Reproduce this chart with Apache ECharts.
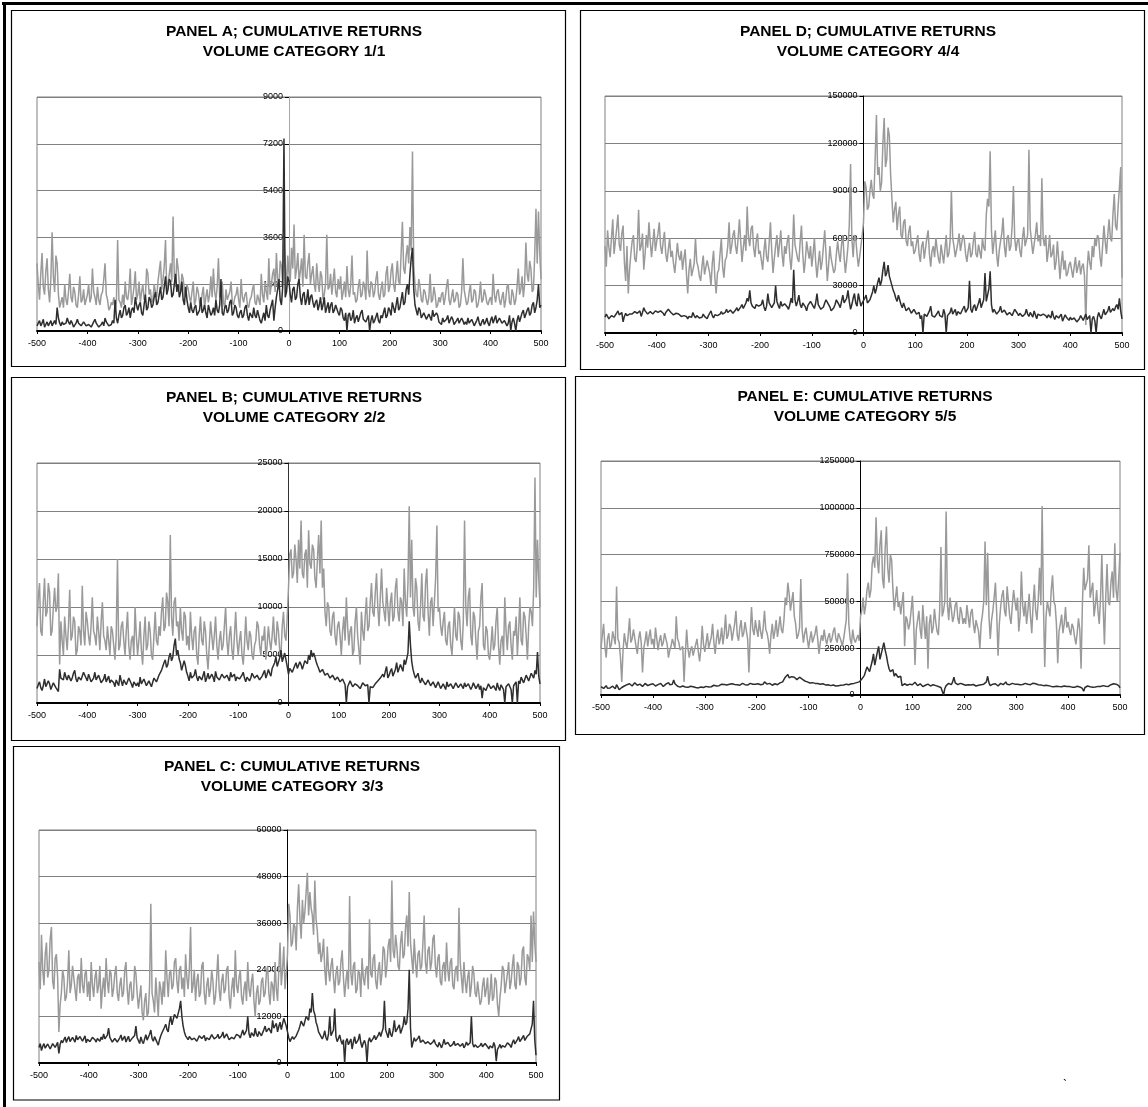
<!DOCTYPE html>
<html>
<head>
<meta charset="utf-8">
<script src="https://cdn.jsdelivr.net/npm/echarts@6/dist/echarts.min.js"></script>
<style>
html,body{margin:0;padding:0;background:#fff;}
#chart{width:1148px;height:1107px;}
</style>
</head>
<body>
<div id="chart"></div>
<script>
// event time: one reading every 2.5 units from -500 to 500 (401 readings per series)
const xValues = [];
for (let k = 0; k <= 400; k++) xValues.push(-500 + k * 2.5);
const xTickLabels = ['-500','-400','-300','-200','-100','0','100','200','300','400','500'];

// ---------- PANEL A (volume category 1/1) ----------
const aGray = [
2600,1800,1200,2200,3000,1700,1400,2300,2800,1600,1100,2000,3800,2100,1500,2900,2600,1400,900,1100,
1300,900,1800,1200,1000,1500,2200,1300,1100,1700,1500,1000,900,1400,2100,1100,1200,1600,1000,1200,
1400,1800,1100,1300,2400,1500,1300,1000,1700,1200,1000,1400,1500,2000,2600,1400,1200,800,900,1100,
1000,1300,800,1100,3500,1200,1100,900,1400,1000,1900,1300,1200,1600,2400,1000,1300,1700,2300,1200,
1400,1900,1100,1500,1800,1200,1300,2400,2200,1400,1600,1100,1200,1800,1500,1300,1900,2300,2700,1600,
2000,2500,3500,1500,1800,2200,2600,1900,4400,2100,1700,2800,2400,1800,1500,2200,2000,1600,1300,1800,
1600,1300,1100,1500,1900,1000,1200,1700,1500,1100,1000,1400,1700,900,1300,1600,1100,1400,2100,1300,
2400,1500,1200,1700,2800,1300,1400,1900,1100,900,1600,1200,1200,1500,1900,1100,1000,1300,1400,1700,
1200,900,2000,1300,1100,1400,1500,1000,900,1200,1300,1600,1800,1100,1000,1400,1200,1000,2200,1400,
1100,1900,1500,1200,2800,1400,1800,2200,2400,1500,3000,2000,1600,2700,2500,1800,3400,2600,1500,2900,
2200,1900,3200,2400,4100,2000,2400,3000,1900,2300,2800,1700,3700,2100,2000,2600,3000,1800,2200,2500,
1800,1500,2600,1900,1500,2300,2100,1200,1400,1800,3700,1600,1700,2200,1400,1900,2400,1500,1300,2000,
1600,2100,1200,1500,1900,1300,2500,1600,1300,1800,2900,1400,1500,1100,1200,1700,2000,1300,1400,1900,
1700,1200,3100,1600,1300,1900,1800,1300,1500,2000,2300,1400,1200,1600,1900,1300,1400,2200,2500,1500,
1700,2300,2600,1800,1500,2100,2700,1900,1800,3000,4200,2400,2200,2900,3300,2600,4000,3100,6900,2500,
1800,1400,1300,2000,1700,1200,1100,1600,1500,1200,1000,1300,2200,1100,1200,1700,1400,900,1000,1300,
1100,1400,1500,1000,1300,1700,2000,1200,1000,1300,1600,1100,1200,1500,1400,900,1000,1500,2800,1600,
1300,1000,1100,1500,1800,1100,1200,1600,1500,900,1000,1300,1900,1100,1200,1600,1400,1100,1000,1200,
1300,1000,2200,1400,1100,1500,1600,1200,1000,1300,1500,900,1200,1700,1800,1100,1000,1600,1400,1000,
1200,1700,2400,1400,1600,2100,1300,1800,3400,2200,1900,2700,2400,1500,1600,2900,4700,2600,4600,3000,
2000];
const aDark = [
200,300,400,200,300,450,150,250,350,200,250,400,200,300,400,250,900,500,300,200,
350,250,200,300,500,350,250,400,300,150,200,300,450,300,250,200,200,350,300,200,
150,250,300,150,200,350,450,300,250,150,100,250,350,200,500,350,300,200,150,250,
400,300,1200,500,300,600,800,500,600,900,1000,600,700,900,500,800,900,700,1300,1000,
800,1000,1100,700,600,1000,1400,800,900,1300,1200,900,1000,1300,1500,1000,1100,1400,1700,1200,
1300,1700,2100,1400,1600,2000,1900,1300,1400,1800,2200,1500,1800,1300,1500,1900,1200,1000,1700,1200,
900,700,1100,800,700,900,1000,600,600,800,1300,700,800,1000,700,500,1000,800,600,700,
900,600,1200,800,700,1000,2000,700,600,900,1000,700,800,1100,1200,600,700,1000,900,600,
500,700,800,500,600,900,1000,600,400,700,700,500,900,600,500,800,600,400,300,500,
700,400,1000,600,500,800,800,1200,400,900,1300,1600,2000,1200,1000,1700,7400,1300,1500,2100,
1900,1400,1100,1600,1700,1200,1300,1800,2000,1300,1000,1400,1500,1000,1200,1600,1000,1300,1400,1100,
900,1100,1200,800,1000,1300,800,1000,1300,700,900,1100,700,1000,1100,700,800,1000,1000,700,
600,900,800,500,400,700,0,600,700,400,500,800,300,500,600,350,400,700,800,450,
500,350,300,600,0,400,600,300,400,550,700,400,300,600,500,700,900,500,600,900,
800,600,1100,900,700,1000,1300,800,900,1200,1500,1000,1100,1600,1800,1400,2200,2800,3200,1600,
1000,800,600,900,800,500,500,700,700,450,400,650,600,400,800,550,500,700,600,350,
400,250,500,350,300,450,600,300,350,550,450,250,250,400,500,300,300,500,400,250,
350,250,500,300,250,450,400,200,300,400,550,300,200,350,450,250,350,500,300,200,
400,550,300,450,600,300,350,500,500,300,250,400,450,200,300,600,0,350,500,300,
0,400,600,350,400,700,800,500,500,800,900,600,700,1000,1100,700,900,1200,1800,900,
1000];
const aYTicks = [0,1800,3600,5400,7200,9000];

// ---------- PANEL B (volume category 2/2) ----------
const bGray = [
8000,11000,12500,7500,7000,10500,13000,9000,9500,12500,11500,7000,7500,10000,12000,9500,10000,13500,4000,8500,
6500,5000,9000,7000,5500,8000,11800,6500,7000,9000,8500,5000,5500,8000,7500,6000,12200,7500,6000,9500,
8500,7000,6000,8000,11000,7500,7000,6000,9000,7500,5500,8500,10500,7000,6500,5500,8000,6500,5000,8000,
7500,6000,4500,7000,15000,5500,6000,8000,8500,6500,5000,7500,9500,6000,4500,6500,7000,5000,10000,7000,
5000,6500,8500,5500,4000,7000,9000,5500,6000,8500,7500,5000,4500,7000,9500,6500,6000,8000,7000,9500,
11000,7500,8000,11500,10500,8000,17500,9000,7000,10500,11000,8000,8500,6500,10000,7500,6500,9500,9000,6000,
7000,5500,9500,7000,5500,7500,8000,5000,4000,7000,9000,6500,6000,8500,7500,5000,3500,6000,8500,7000,
5500,7000,9000,6000,4500,6500,7500,5500,6000,8000,10000,6500,5000,7000,8000,5500,4500,7000,9500,6500,
5000,6500,7500,5000,4000,6000,9000,6500,5500,7500,7000,5000,4500,6000,6500,8500,8000,6000,5000,7000,
6500,8000,4500,6000,8000,6500,5500,7000,9000,6500,6000,8500,7500,5500,5000,8000,9500,7000,6500,9000,
12000,15500,16000,13000,13500,16500,15000,12500,17000,14000,19000,13500,13000,15500,16000,12000,18000,14500,14000,16500,
16000,13000,12000,15000,17500,13500,19000,12000,14000,9500,8000,10500,10000,7500,7000,9000,9500,7000,6000,8000,
8500,7000,5000,7500,9000,6500,11000,8000,6000,7500,8000,5000,5500,8500,10000,7000,7000,4000,9500,7500,
6500,9000,11000,7500,8000,10500,12500,9500,9000,11500,13500,10000,8000,11000,14000,10500,9500,8500,12000,10000,
8000,10500,11500,8500,9000,12000,13000,9500,8500,11000,10500,8000,14000,10500,9000,12500,20500,11000,17000,10000,
9000,13000,12000,8500,7500,10000,13500,9000,8500,12500,14000,9500,7000,10500,11000,8000,8000,13000,18500,9500,
10000,8000,7000,8500,9500,6500,6000,8000,8500,6000,5000,7500,10000,7000,6500,9500,9000,6500,5500,8500,
19000,10000,8000,11000,12000,7000,6000,9500,9000,6500,4500,7500,8000,11000,12500,6000,5500,8000,7500,5000,
4500,6000,8000,5500,6000,8500,10000,6000,4000,6500,7000,5000,11000,7500,5500,8000,8500,6000,4500,7500,
7000,9000,5000,7500,11000,6500,6000,9500,9000,7000,4500,8000,10000,9500,8000,12000,23500,11000,17000,13000,
10000];
const bDark = [
1500,1900,2200,1600,1300,1800,2500,1700,1800,2300,2000,1400,1500,2100,2300,1600,1400,1200,3500,2600,
2800,2400,3200,2700,2400,2900,3000,2300,2600,3100,3400,2500,2200,2700,2900,2400,2500,3200,3100,2600,
2300,3000,2800,2200,2000,2600,3200,2400,2500,2900,2700,2100,1900,2500,3000,2200,2400,2800,2100,2400,
2600,2100,1700,2400,2200,1800,2900,2300,1800,2400,2500,1900,2000,2600,2700,2000,1600,2200,2300,1800,
2100,1700,2700,2000,1800,2500,2400,1800,1600,2300,2200,1700,1900,2600,2800,2200,2300,2900,3000,3400,
3800,4200,4500,3700,4000,4800,5200,4400,4800,6000,6700,5000,5500,4600,4200,3400,3600,4400,3900,3200,
2800,2300,3200,2600,2500,2900,3500,2700,2300,2800,3000,2400,2600,3300,2200,2600,3100,2500,2400,3000,
2700,2200,3300,2700,2900,2400,2500,3000,3100,2600,2400,2900,2800,2300,3200,2700,2600,3000,2300,2700,
2900,2500,2400,2900,3200,2600,2200,2700,2800,2300,2600,3100,3300,2600,2500,2900,2900,2400,2300,2800,
3000,3400,2600,3000,3500,3100,2800,3600,3400,4200,4800,3800,3900,4700,5500,4300,4200,5200,5000,3800,
3000,3600,3800,3200,3300,3900,4200,3600,3500,4300,4000,3500,3700,4400,4600,4100,5000,4500,5500,4800,
5200,4800,4300,3900,3600,3200,3000,3500,3400,2900,2700,3100,3200,2600,2500,2900,2900,2400,2300,2700,
2600,2200,2000,2500,2400,1900,0,1700,1800,2300,2100,1700,1600,2000,2200,1800,1900,1500,1700,2100,
2300,1800,1600,1900,0,1700,1900,1600,1500,2000,1800,2300,2100,2600,2400,3000,2700,3300,3800,2600,
2900,3300,3600,2800,2700,3500,4200,3200,3400,4000,3900,3300,4500,4000,3800,5200,8500,6000,4300,3500,
3000,2600,2700,3100,2400,2100,2600,2300,2200,1900,2000,2400,2300,1800,1800,2200,2100,1600,1700,2200,
2000,1500,1600,2000,1800,1400,2200,1700,1500,2000,1900,1500,1700,2100,2300,1600,1600,2000,1800,1500,
2100,1700,1500,2000,1900,1400,1700,2100,2200,1500,1600,2000,1400,1800,500,1600,1800,1300,1500,2000,
1900,1500,1400,1800,1700,1300,2100,1600,1300,1900,1800,1400,0,1700,1500,2000,1900,1400,0,1800,
1600,2200,0,2300,2000,2700,2500,2100,2200,2900,2800,2300,2400,3100,3000,2600,3400,3000,5300,2800,
2000];
const bYTicks = [0,5000,10000,15000,20000,25000];

// ---------- PANEL C (volume category 3/3) ----------
const cGray = [
26000,19000,33000,24000,20000,28000,31000,22000,24000,32000,35000,21000,19000,27000,28000,22000,8000,15000,18000,24000,
22000,16000,17000,21000,29000,18000,20000,25000,25000,19000,16000,22000,23000,18000,27000,20000,18000,23000,24000,17000,
21000,16000,26000,20000,17000,22000,24000,18000,20000,25000,14000,19000,22000,17000,27000,21000,18000,24000,23000,17000,
19000,23000,25000,18000,16000,20000,22000,17000,18000,24000,26000,19000,15000,20000,21000,16000,17000,25000,23000,18000,
14000,17000,20000,13000,11000,16000,18000,12000,13000,20000,41000,18000,16000,13000,22000,17000,12000,21000,19000,15000,
21000,17000,29000,22000,17000,23000,24000,19000,20000,26000,27000,21000,18000,24000,25000,19000,22000,17000,28000,22000,
19000,24000,35000,18000,20000,24000,16000,21000,23000,17000,18000,25000,26000,18000,15000,20000,22000,17000,19000,24000,
21000,15000,17000,22000,28000,19000,16000,21000,23000,18000,19000,24000,25000,17000,14000,19000,22000,17000,29000,20000,
18000,22000,24000,17000,15000,19000,21000,16000,26000,19000,17000,21000,23000,16000,12000,18000,20000,15000,16000,21000,
22000,17000,18000,23000,25000,18000,15000,21000,20000,16000,26000,19000,16000,24000,31000,20000,24000,30000,19000,23000,
28000,41000,38000,30000,31000,36000,35000,29000,40000,46000,37000,32000,42000,36000,39000,44000,49000,38000,44000,40000,
38000,33000,47000,37000,34000,28000,31000,26000,28000,32000,24000,20000,30000,24000,21000,25000,27000,22000,18000,23000,
25000,20000,21000,26000,29000,22000,17000,21000,24000,19000,43000,23000,20000,25000,26000,18000,19000,24000,23000,17000,
27000,22000,20000,24000,25000,19000,37000,23000,22000,27000,28000,21000,19000,24000,26000,20000,23000,30000,29000,22000,
25000,30000,32000,26000,47000,29000,27000,33000,30000,25000,24000,31000,34000,27000,28000,35000,38000,30000,44000,31000,
27000,23000,32000,26000,22000,28000,29000,24000,25000,31000,38000,26000,23000,29000,30000,24000,26000,32000,33000,25000,
22000,27000,28000,21000,20000,25000,26000,21000,31000,24000,21000,26000,27000,20000,19000,24000,25000,21000,40000,26000,
22000,18000,26000,21000,18000,22000,24000,17000,20000,25000,23000,18000,17000,21000,21000,15000,16000,20000,22000,17000,
19000,22000,15000,18000,23000,16000,17000,22000,21000,15000,12000,17000,20000,25000,24000,18000,18000,23000,26000,19000,
21000,25000,28000,20000,19000,26000,25000,20000,22000,29000,30000,22000,20000,28000,27000,24000,38000,26000,39000,31000,
26000];
const cDark = [
4000,5000,3200,4300,5000,3800,3700,4900,4500,3600,3500,5000,5200,4000,4200,5300,2500,4800,5800,5200,
6000,6700,5300,6200,6800,5500,5700,6600,6300,5400,7100,6000,5500,6800,6600,5600,6000,7000,5200,6100,
6400,5500,5800,6600,7000,6000,5400,6300,6100,5600,6700,6000,7500,6200,5900,7200,9000,6600,6300,5400,
5700,6300,6600,5400,5200,6500,7200,5800,6000,6900,5400,6200,6900,5500,5100,6400,6200,7100,9500,6500,
5800,5000,6700,5600,5000,6200,7300,5900,6100,7400,8500,6300,5600,6800,6400,5300,4600,6000,7000,7800,
8500,9200,10000,8600,8000,10500,12000,9800,9500,12500,13000,11500,11000,14000,16000,12000,9500,8000,7000,6500,
6000,6800,7200,6000,5500,6400,6800,5600,5900,7000,7500,6300,6200,7100,5700,6500,7000,6000,6400,7300,
6900,6200,5800,6700,7400,6300,6100,7000,8000,6400,6600,7500,7200,6000,5500,6600,7000,6200,6300,7400,
7800,7000,6400,7500,8500,7200,7000,8400,12000,7600,6500,7800,7600,6900,9000,7400,6800,8100,8200,7000,
7400,8600,9500,8000,7900,9000,8800,7700,11000,9000,9300,10200,8000,9400,10500,8600,9000,11500,12000,9500,
8000,6500,5500,6200,6800,6100,6000,7000,7300,8500,9500,10800,11000,9500,10000,12000,12500,11000,14000,13000,
18000,13500,12500,10500,9500,8000,7500,6800,6200,7000,8300,6500,5800,7500,12000,7000,6500,8500,14000,6800,
5500,6300,7200,5800,4800,6000,0,5500,6300,4700,5100,6200,3600,5400,6800,5000,4500,6000,7500,5200,
4000,5200,5800,4600,0,5500,6500,5400,5000,6400,7100,6000,6000,7200,8000,6800,6600,9000,16000,8500,
7500,6500,9000,7400,6800,8400,11000,8000,8200,9200,9800,7600,7300,9600,12000,9800,10500,14000,24000,9000,
4000,3500,6500,5600,5500,6400,7000,5300,5000,5900,6200,5000,4600,5500,5800,4800,4400,5400,6000,5000,
4700,4100,5300,4600,3900,4900,6100,4800,4400,5300,5000,4300,3800,4800,5600,4500,4200,5000,5200,4300,
4600,5000,3900,4500,5400,4600,4300,5200,12000,5000,4100,4700,4800,4000,3700,4500,5100,4200,4300,5000,
4900,4200,3600,4400,4500,3900,5300,4300,500,3500,4100,4800,3800,4500,5000,4100,4400,5200,5600,4600,
4000,5200,6000,4900,4700,6000,6800,5500,5300,6500,7100,5800,5600,6900,6600,7500,8000,10000,16000,6000,
2000];
const cYTicks = [0,12000,24000,36000,48000,60000];

// ---------- PANEL D (volume category 4/4) ----------
const dGray = [
55000,42000,65000,54000,48000,60000,72000,50000,58000,66000,75000,56000,52000,63000,68000,45000,33000,55000,25000,40000,
50000,58000,62000,47000,45000,55000,78000,52000,55000,63000,40000,50000,62000,54000,70000,58000,48000,57000,66000,52000,
58000,63000,70000,55000,50000,58000,64000,50000,45000,53000,60000,48000,52000,44000,38000,47000,57000,49000,46000,52000,
40000,47000,53000,38000,25000,40000,47000,36000,35000,44000,60000,45000,42000,36000,33000,42000,49000,37000,38000,46000,
45000,38000,30000,44000,52000,35000,25000,38000,40000,50000,60000,42000,35000,46000,48000,55000,70000,50000,55000,62000,
65000,55000,50000,60000,72000,58000,45000,54000,62000,52000,80000,60000,55000,66000,68000,54000,48000,58000,63000,50000,
52000,46000,40000,52000,60000,48000,45000,57000,70000,52000,38000,47000,55000,62000,48000,56000,65000,50000,42000,55000,
50000,58000,62000,48000,40000,52000,75000,56000,55000,47000,45000,58000,68000,50000,38000,46000,58000,52000,47000,55000,
42000,50000,60000,45000,35000,44000,52000,40000,45000,55000,65000,50000,33000,43000,55000,47000,48000,38000,40000,50000,
58000,50000,45000,56000,62000,48000,38000,46000,55000,68000,107000,60000,48000,62000,60000,50000,42000,48000,55000,62000,
70000,96000,92000,78000,80000,90000,97000,88000,85000,110000,138000,100000,105000,90000,95000,120000,136000,105000,110000,130000,
125000,100000,85000,70000,78000,83000,65000,75000,80000,62000,60000,70000,72000,58000,55000,64000,68000,55000,58000,50000,
52000,57000,62000,50000,45000,55000,58000,47000,48000,60000,65000,50000,42000,52000,55000,48000,60000,53000,47000,44000,
56000,50000,44000,53000,62000,48000,50000,58000,90000,60000,55000,48000,48000,57000,63000,52000,52000,62000,59000,50000,
45000,52000,57000,48000,50000,58000,64000,50000,48000,56000,55000,47000,60000,54000,52000,75000,85000,80000,115000,65000,
50000,58000,65000,50000,42000,52000,58000,63000,73000,55000,48000,60000,62000,52000,55000,68000,93000,60000,52000,58000,
60000,52000,48000,60000,67000,55000,54000,62000,116000,66000,58000,50000,50000,62000,70000,58000,62000,55000,98000,60000,
55000,62000,45000,52000,62000,48000,50000,56000,40000,45000,58000,47000,34000,44000,52000,40000,46000,36000,38000,43000,
45000,40000,35000,42000,48000,38000,42000,46000,37000,42000,44000,36000,5000,40000,52000,45000,40000,55000,48000,60000,
55000,62000,60000,48000,42000,55000,68000,58000,50000,62000,72000,60000,58000,75000,88000,68000,65000,80000,92000,105000,
35000];
const dDark = [
10000,12000,13000,9000,8000,11000,12000,10000,9500,12500,14000,11500,11000,13000,7000,10500,12500,11000,10000,12000,
13000,12000,11000,13500,14500,12500,12000,14000,10500,13000,16000,14000,13500,12000,11500,13500,14000,12000,12500,14000,
15000,13000,12000,14000,14000,12500,11000,13000,13500,15000,16000,13000,12500,11500,10500,12500,13000,12000,11500,10500,
10000,11000,12000,10500,9000,10500,11500,10000,13000,11000,9500,11000,10500,9500,8500,10000,12000,10500,10000,9000,
11000,12500,14000,11000,9500,11500,12500,11000,10000,12000,13500,12000,11500,13000,15000,13000,12500,14500,14000,12500,
13000,14500,16000,14000,14500,16500,18000,15500,15000,19000,22000,20000,27000,19000,17000,16000,15500,18000,19000,17000,
16000,18000,21000,16500,14000,17000,25000,19000,18000,16000,15000,19000,30000,20000,17500,15500,20000,17000,16000,18500,
19000,16500,15000,18000,22000,19000,40000,21000,17000,20000,24000,18000,16000,19000,20000,16500,14000,17500,18000,20000,
21000,17000,15500,19000,25000,18000,17000,15000,14000,16500,19000,21000,22000,18000,16500,14000,13000,16000,18000,21000,
20000,18000,16000,20000,24000,19000,18000,22000,27000,20000,15000,18000,22000,25000,19000,17000,25000,21000,17000,19000,
20000,22000,24000,19000,18000,21000,22000,26000,30000,25000,28000,32000,35000,30000,33000,40000,45000,36000,38000,43000,
36000,33000,30000,27000,25000,22000,20000,24000,23000,18000,16000,19000,18000,14000,13000,16000,15000,12500,12000,15000,
14000,12000,11000,13000,9000,11000,0,12000,13000,10500,10000,14000,17000,11000,12000,10000,9500,12500,14000,11000,
12000,10000,15000,12000,0,11000,10500,13000,16000,12000,13000,15000,11000,13500,14500,12000,12500,15500,17000,13000,
14000,16000,33000,15000,13000,16500,18000,14000,15000,19000,22000,16000,17000,21000,38000,20000,24000,28000,39000,18000,
13000,15000,16000,12000,11000,14000,17000,13000,12000,14500,15000,11500,10500,13000,14000,11000,12000,15000,16000,12500,
11000,12500,13500,10500,9500,12000,15000,12000,10500,13000,12000,10000,14000,11500,9000,12000,13000,11000,10000,12000,
12500,11000,9500,11500,11000,9500,14000,10500,8500,11000,12000,9500,10000,12000,7500,9500,11500,10000,9000,8000,
10000,8500,7500,9500,9000,7000,6500,9000,11000,9500,8000,10000,12000,8500,9500,11000,0,9000,10500,7500,
0,10000,13000,10500,9000,12000,15000,11500,11000,14000,17000,13000,12000,15500,14000,16500,18000,15000,22000,14000,
9000];
const dYTicks = [0,30000,60000,90000,120000,150000];

// ---------- PANEL E (volume category 5/5) ----------
const eGray = [
250000,320000,380000,260000,200000,300000,330000,250000,270000,340000,350000,270000,580000,300000,280000,200000,70000,240000,330000,280000,
250000,320000,410000,280000,300000,350000,360000,260000,220000,300000,340000,280000,120000,250000,290000,340000,260000,310000,350000,270000,
300000,250000,360000,300000,240000,290000,320000,260000,280000,330000,340000,270000,200000,240000,260000,300000,310000,250000,420000,300000,
280000,240000,230000,260000,70000,220000,350000,250000,200000,240000,260000,210000,220000,270000,300000,230000,180000,250000,370000,270000,
230000,280000,330000,250000,260000,310000,380000,280000,220000,300000,350000,270000,300000,360000,270000,330000,430000,300000,320000,380000,
360000,290000,300000,380000,450000,320000,290000,360000,400000,310000,330000,390000,380000,300000,120000,330000,470000,350000,320000,400000,
350000,310000,400000,340000,300000,360000,450000,350000,330000,290000,220000,320000,380000,300000,340000,400000,310000,360000,420000,350000,
330000,400000,520000,480000,600000,540000,450000,500000,550000,420000,380000,300000,320000,360000,620000,350000,280000,330000,360000,300000,
250000,300000,340000,280000,290000,330000,370000,300000,220000,280000,320000,290000,350000,300000,270000,310000,330000,280000,300000,340000,
360000,300000,280000,330000,340000,290000,260000,300000,310000,400000,650000,380000,300000,270000,350000,300000,280000,300000,320000,290000,
420000,450000,520000,430000,480000,560000,600000,520000,560000,700000,740000,680000,950000,720000,650000,800000,880000,620000,570000,780000,
900000,680000,600000,750000,720000,560000,450000,520000,580000,470000,500000,430000,440000,550000,260000,420000,400000,350000,380000,450000,
530000,380000,160000,350000,400000,450000,350000,300000,480000,380000,300000,420000,140000,380000,430000,330000,360000,460000,390000,340000,
320000,450000,790000,420000,450000,500000,980000,480000,400000,520000,460000,390000,420000,480000,500000,410000,380000,470000,440000,380000,
410000,380000,480000,420000,360000,440000,460000,380000,330000,400000,390000,340000,250000,380000,430000,500000,820000,480000,760000,420000,
300000,400000,450000,520000,600000,430000,210000,380000,470000,530000,560000,450000,420000,580000,500000,420000,380000,480000,560000,500000,
450000,520000,340000,420000,660000,480000,420000,500000,380000,450000,540000,420000,330000,480000,590000,450000,400000,510000,680000,480000,
1010000,480000,150000,420000,500000,460000,420000,560000,640000,500000,480000,380000,170000,340000,380000,430000,330000,380000,470000,360000,
390000,350000,320000,380000,360000,310000,270000,330000,410000,350000,140000,480000,680000,560000,590000,620000,800000,520000,510000,600000,
420000,480000,560000,450000,380000,520000,750000,480000,270000,520000,700000,500000,480000,600000,660000,520000,810000,560000,500000,620000,
760000];
const eDark = [
45000,40000,35000,44000,50000,36000,30000,38000,42000,47000,38000,33000,55000,42000,28000,36000,40000,45000,48000,52000,
55000,50000,60000,54000,48000,56000,65000,55000,52000,48000,58000,53000,46000,54000,62000,57000,50000,47000,56000,52000,
60000,53000,48000,52000,55000,50000,62000,56000,45000,51000,58000,54000,66000,55000,50000,58000,80000,60000,52000,47000,
45000,42000,40000,48000,55000,43000,38000,41000,42000,47000,50000,44000,36000,40000,44000,38000,39000,43000,46000,40000,
42000,46000,50000,43000,38000,44000,47000,52000,55000,48000,44000,50000,52000,58000,65000,56000,58000,53000,62000,57000,
55000,60000,68000,56000,50000,55000,60000,52000,54000,62000,66000,55000,48000,53000,58000,62000,52000,57000,62000,58000,
56000,60000,64000,55000,50000,58000,70000,62000,58000,54000,62000,57000,52000,56000,60000,55000,55000,62000,65000,68000,
70000,80000,95000,105000,110000,92000,85000,98000,105000,95000,90000,82000,80000,95000,100000,85000,78000,75000,72000,70000,
68000,64000,60000,66000,72000,62000,58000,61000,64000,57000,55000,60000,60000,54000,50000,55000,56000,50000,48000,53000,
52000,48000,45000,50000,58000,52000,48000,53000,55000,58000,62000,55000,50000,60000,68000,62000,58000,66000,64000,70000,
75000,85000,95000,105000,110000,150000,140000,125000,120000,180000,220000,160000,170000,230000,260000,190000,200000,250000,280000,240000,
210000,170000,140000,125000,120000,135000,100000,115000,110000,95000,90000,100000,50000,58000,60000,55000,52000,60000,58000,52000,
55000,60000,68000,58000,50000,55000,60000,50000,45000,53000,52000,48000,58000,54000,48000,52000,55000,47000,50000,46000,
45000,42000,40000,30000,0,35000,50000,58000,62000,54000,55000,70000,95000,65000,60000,55000,58000,62000,65000,57000,
55000,52000,60000,55000,48000,53000,62000,56000,52000,48000,58000,52000,45000,55000,65000,58000,55000,70000,100000,65000,
50000,55000,58000,52000,60000,54000,48000,56000,62000,58000,55000,60000,70000,57000,52000,55000,58000,62000,65000,58000,
55000,58000,62000,55000,50000,56000,58000,62000,66000,57000,52000,55000,60000,63000,56000,60000,64000,55000,50000,54000,
58000,50000,45000,52000,55000,50000,50000,46000,48000,44000,42000,47000,52000,45000,40000,44000,46000,48000,50000,45000,
42000,45000,48000,42000,38000,41000,44000,47000,50000,43000,40000,35000,20000,40000,45000,48000,52000,44000,38000,42000,
46000,43000,40000,46000,50000,45000,44000,50000,55000,47000,42000,46000,48000,55000,52000,60000,70000,58000,60000,50000,
38000];
const eYTicks = [0,250000,500000,750000,1000000,1250000];

// ---------- layout ----------
const FONT = 'Liberation Sans, Arial, Helvetica, sans-serif';
const panels = [
  {title:'PANEL A; CUMULATIVE RETURNS\nVOLUME CATEGORY 1/1', gray:aGray, dark:aDark, ticks:aYTicks,
   grid:{left:37,top:97,width:504,height:234}, tx:289, ty:17, yLine:'#a8a8a8',
   box:[11.5,10.5,554,356]},
  {title:'PANEL D; CUMULATIVE RETURNS\nVOLUME CATEGORY 4/4', gray:dGray, dark:dDark, ticks:dYTicks,
   grid:{left:605,top:96,width:517,height:237}, tx:863, ty:17, yLine:'#000',
   box:[580.5,10.5,564,359]},
  {title:'PANEL B; CUMULATIVE RETURNS\nVOLUME CATEGORY 2/2', gray:bGray, dark:bDark, ticks:bYTicks,
   grid:{left:37,top:463,width:503,height:240}, tx:289, ty:383, yLine:'#333',
   box:[11.5,377.5,554,363]},
  {title:'PANEL E: CUMULATIVE RETURNS\nVOLUME CATEGORY 5/5', gray:eGray, dark:eDark, ticks:eYTicks,
   grid:{left:601,top:461,width:519,height:234}, tx:860, ty:382, yLine:'#000',
   box:[575.5,376.5,569,358]},
  {title:'PANEL C: CUMULATIVE RETURNS\nVOLUME CATEGORY 3/3', gray:cGray, dark:cDark, ticks:cYTicks,
   grid:{left:39,top:830,width:497,height:233}, tx:287, ty:752, yLine:'#000',
   box:[13.5,746.5,546,353.5]}
];

const option = {
  animation:false,
  backgroundColor:'#fff',
  title:[], grid:[], xAxis:[], yAxis:[], series:[],
  graphic:[]
};

panels.forEach((p,i)=>{
  option.title.push({
    text:p.title, left:p.tx, top:p.ty, textAlign:'center',
    textStyle:{fontFamily:FONT,fontSize:15.5,fontWeight:'bold',color:'#000',lineHeight:20}
  });
  option.grid.push(Object.assign({show:true,borderColor:'#808080',borderWidth:1,backgroundColor:'transparent',containLabel:false}, p.grid));
  option.xAxis.push({
    type:'value', gridIndex:i, min:-500, max:500, interval:100,
    axisLine:{show:true,onZero:false,lineStyle:{color:'#000',width:2}},
    axisTick:{show:true,length:3,inside:false,lineStyle:{color:'#000',width:1}},
    axisLabel:{fontFamily:FONT,fontSize:9,color:'#000',margin:8,
      formatter:(v)=>{const s=String(v);return xTickLabels.indexOf(s)>=0?s:'';}},
    splitLine:{show:false}
  });
  const maxV = p.ticks[p.ticks.length-1];
  option.yAxis.push({
    type:'value', gridIndex:i, position:'left', offset:-(p.grid.width/2),
    min:p.ticks[0], max:maxV, interval:p.ticks[1]-p.ticks[0],
    axisLine:{show:true,onZero:false,lineStyle:{color:p.yLine,width:1}},
    axisTick:{show:true,length:4,inside:false,lineStyle:{color:'#000',width:1}},
    axisLabel:{fontFamily:FONT,fontSize:9,color:'#000',margin:6,formatter:(v)=>String(v)},
    splitLine:{show:true,lineStyle:{color:'#808080',width:1}}
  });
  option.series.push({
    type:'line', xAxisIndex:i, yAxisIndex:i, symbol:'none', showSymbol:false,
    data:xValues.map((x,k)=>[x,p.gray[k]]),
    lineStyle:{color:'#9a9a9a',width:1.5}, z:2
  });
  option.series.push({
    type:'line', xAxisIndex:i, yAxisIndex:i, symbol:'none', showSymbol:false,
    data:xValues.map((x,k)=>[x,p.dark[k]]),
    lineStyle:{color:'#2e2e2e',width:1.5}, z:3
  });
  option.graphic.push({
    type:'rect', shape:{x:p.box[0],y:p.box[1],width:p.box[2],height:p.box[3]},
    style:{fill:'none',stroke:'#000',lineWidth:1.2}, silent:true, z:100
  });
});

// outer frame (thick top and left lines)
option.graphic.push({type:'line',shape:{x1:2,y1:3.5,x2:1148,y2:3.5},style:{stroke:'#000',lineWidth:3},silent:true,z:100});
option.graphic.push({type:'line',shape:{x1:4.5,y1:2,x2:4.5,y2:1107},style:{stroke:'#000',lineWidth:3},silent:true,z:100});
option.graphic.push({type:'text',left:1063,top:1080,style:{text:'`',fontFamily:FONT,fontSize:12,fill:'#000'},silent:true,z:100});

const chart = echarts.init(document.getElementById('chart'), null, {renderer:'canvas'});
chart.setOption(option);
</script>
</body>
</html>
